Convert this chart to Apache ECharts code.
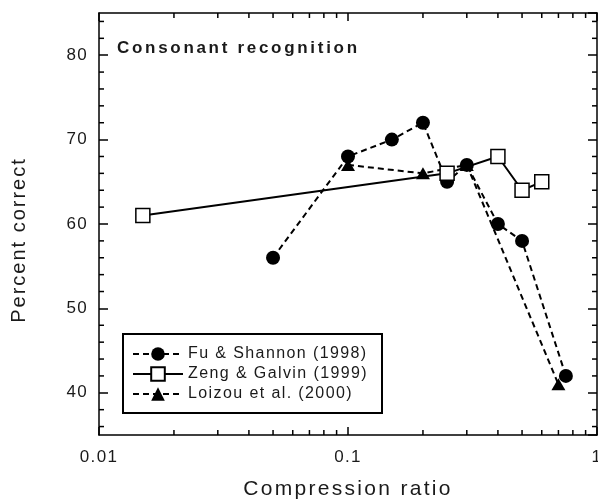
<!DOCTYPE html>
<html>
<head>
<meta charset="utf-8">
<script src="https://cdn.jsdelivr.net/npm/echarts@6/dist/echarts.min.js"></script>
<style>
html,body{margin:0;padding:0;background:#fff;}
#chart{width:598px;height:502px;}
</style>
</head>
<body>
<div id="chart"></div>
<script>
// ---- data ----
const seriesNames = ['Fu & Shannon (1998)', 'Zeng & Galvin (1999)', 'Loizou et al. (2000)'];
const fuX = [0.05, 0.1, 0.15, 0.2, 0.25, 0.3, 0.4, 0.5, 0.75];
const fuY = [56, 68, 70, 72, 65, 67, 60, 58, 42];
const zengX = [0.015, 0.25, 0.4, 0.5, 0.6];
const zengY = [61, 66, 68, 64, 65];
const loizouX = [0.1, 0.2, 0.3, 0.7];
const loizouY = [67, 66, 67, 41];
const xTickLabels = ['0.01', '0.1', '1'];
const xMinorTicks = [0.02, 0.03, 0.04, 0.05, 0.06, 0.07, 0.08, 0.09, 0.2, 0.3, 0.4, 0.5, 0.6, 0.7, 0.8, 0.9];
const yMinorTicks = [36, 38, 42, 44, 46, 48, 52, 54, 56, 58, 62, 64, 66, 68, 72, 74, 76, 78, 82, 84];
const titleText = 'Consonant recognition';
const xName = 'Compression ratio';
const yName = 'Percent correct';

// ---- letter spacing for canvas text ----
(function () {
  const proto = CanvasRenderingContext2D.prototype;
  function spacing(font) {
    const m = /(\d+(?:\.\d+)?)px/.exec(font || '');
    const size = m ? parseFloat(m[1]) : 12;
    const bold = /bold|700/.test(font);
    if (bold) return 2.7;
    if (size >= 21) return 2.3;
    if (size >= 20) return 2.0;
    if (size >= 17) return 1.3;
    if (size >= 16) return 1.4;
    return 0;
  }
  const of = proto.fillText, os = proto.strokeText;
  proto.fillText = function () { try { this.letterSpacing = spacing(this.font) + 'px'; } catch (e) {} return of.apply(this, arguments); };
  proto.strokeText = function () { try { this.letterSpacing = spacing(this.font) + 'px'; } catch (e) {} return os.apply(this, arguments); };
})();

const FONT = '"Liberation Sans", Arial, Helvetica, sans-serif';
const INK = '#1a1a1a';
const pair = (xs, ys) => xs.map((x, i) => [x, ys[i]]);

function xMinorRender(params, api) {
  const cs = params.coordSys;
  const px = api.coord([api.value(0), 60])[0];
  const yb = cs.y + cs.height, yt = cs.y;
  return { type: 'group', children: [
    { type: 'line', shape: { x1: px, y1: yb, x2: px, y2: yb - 5 }, style: { stroke: '#000', lineWidth: 1.5 } },
    { type: 'line', shape: { x1: px, y1: yt, x2: px, y2: yt + 5 }, style: { stroke: '#000', lineWidth: 1.5 } }
  ]};
}
function yMinorRender(params, api) {
  const cs = params.coordSys;
  const py = api.coord([0.1, api.value(1)])[1];
  const xl = cs.x, xr = cs.x + cs.width;
  return { type: 'group', children: [
    { type: 'line', shape: { x1: xl, y1: py, x2: xl + 5, y2: py }, style: { stroke: '#000', lineWidth: 1.5 } },
    { type: 'line', shape: { x1: xr, y1: py, x2: xr - 5, y2: py }, style: { stroke: '#000', lineWidth: 1.5 } }
  ]};
}

const axisLine = { show: true, lineStyle: { color: '#000', width: 1.5 } };
const chart = echarts.init(document.getElementById('chart'), null, { renderer: 'canvas' });
chart.setOption({
  animation: false,
  backgroundColor: '#fff',
  textStyle: { fontFamily: FONT },
  title: { text: titleText, left: 117, top: 40, padding: 0,
    textStyle: { fontFamily: FONT, fontSize: 17, fontWeight: 'bold', color: INK } },
  grid: { left: 99, right: 1, top: 13, bottom: 67, containLabel: false, outerBoundsMode: 'none' },
  graphic: [
    { type: 'rect', left: 122, top: 333, z: 3,
      shape: { width: 259, height: 79 },
      style: { fill: '#fff', stroke: '#000', lineWidth: 2 } }
  ],
  legend: {
    data: seriesNames, orient: 'vertical', left: 122, top: 336, z: 5,
    itemWidth: 50, itemHeight: 17, itemGap: 4,
    padding: [10, 8, 10, 10],
    selectedMode: false,
    textStyle: { fontFamily: FONT, fontSize: 16, color: INK }
  },
  xAxis: [
    { type: 'log', logBase: 10, min: 0.01, max: 1, position: 'bottom',
      name: xName, nameLocation: 'middle', nameGap: 44,
      nameTextStyle: { fontFamily: FONT, fontSize: 21, color: INK },
      axisLine: axisLine, splitLine: { show: false },
      axisTick: { inside: true, length: 8, lineStyle: { color: '#000', width: 1.5 } },
      axisLabel: { margin: 14, fontFamily: FONT, fontSize: 17, color: INK,
        formatter: v => { const i = Math.round(Math.log10(v)) + 2; return xTickLabels[i] || ''; } } },
    { type: 'log', logBase: 10, min: 0.01, max: 1, position: 'top',
      axisLine: axisLine, splitLine: { show: false },
      axisTick: { inside: true, length: 8, lineStyle: { color: '#000', width: 1.5 } },
      axisLabel: { show: false } }
  ],
  yAxis: [
    { type: 'value', min: 35, max: 85, position: 'left',
      name: yName, nameLocation: 'middle', nameGap: 70, nameRotate: 90,
      nameTextStyle: { fontFamily: FONT, fontSize: 20, color: INK, padding: [0, 32, 0, 0] },
      axisLine: axisLine, splitLine: { show: false },
      axisTick: { inside: true, length: 9, lineStyle: { color: '#000', width: 1.5 } },
      axisLabel: { margin: 11, fontFamily: FONT, fontSize: 17, color: INK, showMinLabel: false, showMaxLabel: false,
        formatter: v => (v % 10 === 0 ? String(v) : '') } },
    { type: 'value', min: 35, max: 85, position: 'right',
      axisLine: axisLine, splitLine: { show: false },
      axisTick: { inside: true, length: 9, lineStyle: { color: '#000', width: 1.5 } },
      axisLabel: { show: false } }
  ],
  series: [
    { name: seriesNames[0], type: 'line', data: pair(fuX, fuY), z: 3,
      symbol: 'circle', symbolSize: 14,
      itemStyle: { color: '#000' },
      lineStyle: { color: '#000', width: 2, type: [6, 4] } },
    { name: seriesNames[1], type: 'line', data: pair(zengX, zengY), z: 4,
      symbol: 'rect', symbolSize: 14,
      itemStyle: { color: '#fff', borderColor: '#000', borderWidth: 1.5 },
      lineStyle: { color: '#000', width: 2, type: 'solid' } },
    { name: seriesNames[2], type: 'line', data: pair(loizouX, loizouY), z: 2,
      symbol: 'triangle', symbolSize: [14, 12],
      itemStyle: { color: '#000' },
      lineStyle: { color: '#000', width: 2, type: [6, 4] } },
    { type: 'custom', silent: true, renderItem: xMinorRender, data: xMinorTicks.map(v => [v, 60]), z: 1 },
    { type: 'custom', silent: true, renderItem: yMinorRender, data: yMinorTicks.map(v => [0.1, v]), z: 1 }
  ]
});
</script>
</body>
</html>
